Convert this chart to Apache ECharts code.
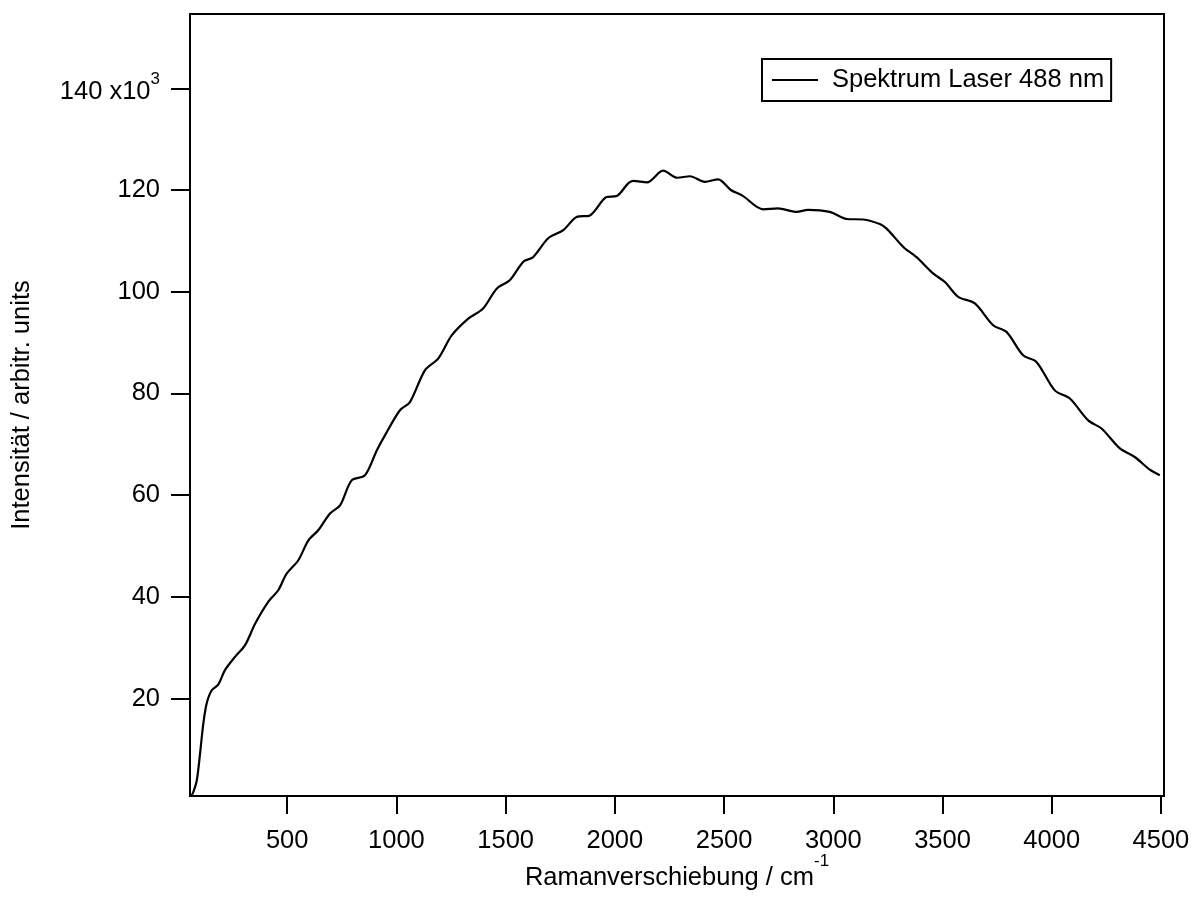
<!DOCTYPE html>
<html>
<head>
<meta charset="utf-8">
<script src="https://cdn.jsdelivr.net/npm/echarts@6/dist/echarts.min.js"></script>
<style>
  html, body { margin: 0; padding: 0; background: #fff; }
  #chart { width: 1197px; height: 897px; }
</style>
</head>
<body>
<div id="chart"></div>
<script>
// Raman shift (cm^-1)
const ramanShift = [63, 70, 86, 101, 116, 131, 154, 185, 215, 261, 307, 353, 413, 459, 498, 551, 597, 642, 696, 742, 795, 856, 910, 948,
  1016, 1062, 1131, 1192, 1253, 1329, 1397, 1459, 1520, 1581, 1626, 1695, 1764, 1825, 1886, 1962, 2008, 2061, 2084, 2147, 2221,
  2286, 2344, 2412, 2473, 2531, 2584, 2679, 2746, 2832, 2884, 2984, 3061, 3137, 3213, 3244, 3305, 3328, 3381, 3457, 3511, 3572,
  3648, 3732, 3793, 3869, 3930, 4014, 4083, 4167, 4228, 4312, 4380, 4449, 4495];
// Intensity (x10^3, arbitrary units)
const intensity = [1.0, 1.6, 3.9, 9.2, 15.1, 19.0, 21.6, 22.8, 25.6, 28.2, 30.5, 34.7, 39.0, 41.3, 44.6, 47.2, 51.1, 53.1, 56.4, 58.0, 62.9, 63.9, 68.8, 71.8,
  76.7, 78.3, 84.6, 86.9, 91.4, 94.7, 96.7, 100.6, 102.3, 105.9, 106.8, 110.5, 112.1, 114.7, 115.0, 118.6, 118.8, 121.3, 121.8, 121.5, 123.8,
  122.4, 122.7, 121.6, 122.1, 120.0, 118.9, 116.2, 116.4, 115.7, 116.1, 115.7, 114.3, 114.2, 113.3, 112.4, 109.5, 108.5, 106.8, 103.6, 101.9, 99.0,
  97.7, 93.4, 92.1, 87.5, 86.2, 80.6, 79.0, 74.7, 73.1, 69.2, 67.5, 65.0, 63.9];
const xTicks = [500, 1000, 1500, 2000, 2500, 3000, 3500, 4000, 4500];
const yTicks = [20, 40, 60, 80, 100, 120, 140];
const seriesName = 'Spektrum Laser 488 nm';
const xTitle = 'Ramanverschiebung / cm';
const yTitle = 'Intensität / arbitr. units';

const FONT = 'Liberation Sans';
const FS = 25.5;
const chart = echarts.init(document.getElementById('chart'), null, { renderer: 'canvas' });
const data = ramanShift.map((x, i) => [x, intensity[i]]);

chart.setOption({
  animation: false,
  backgroundColor: '#fff',
  textStyle: { fontFamily: FONT, color: '#000' },
  grid: {
    left: 190, right: 33, top: 14, bottom: 101,
    outerBoundsMode: 'none',
    containLabel: false,
    show: true, borderColor: '#000', borderWidth: 2, backgroundColor: 'transparent'
  },
  legend: {
    left: 762, top: 59,
    padding: [8, 7, 8, 10],
    borderColor: '#000', borderWidth: 2,
    itemWidth: 46, itemHeight: 2,
    icon: 'rect',
    textStyle: { fontFamily: FONT, fontSize: FS, color: '#000', padding: [0, 0, 0, 9] },
    data: [{ name: seriesName, itemStyle: { color: '#000' } }]
  },
  xAxis: {
    type: 'value',
    min: 55, max: 4514,
    name: '{m|' + xTitle + '}{s|-1}',
    nameLocation: 'middle',
    nameGap: 57,
    nameMoveOverlap: false,
    nameTextStyle: {
      fontFamily: FONT, fontSize: FS, color: '#000',
      rich: {
        m: { fontFamily: FONT, fontSize: FS, color: '#000', lineHeight: 38, verticalAlign: 'bottom' },
        s: { fontFamily: FONT, fontSize: 17, color: '#000', lineHeight: 17, verticalAlign: 'top' }
      }
    },
    splitLine: { show: false },
    axisLine: { show: true, lineStyle: { color: '#000', width: 2 } },
    axisTick: { show: true, inside: false, length: 18, lineStyle: { color: '#000', width: 2 }, customValues: xTicks },
    axisLabel: {
      fontFamily: FONT, fontSize: FS, color: '#000', margin: 32, customValues: xTicks,
      formatter: function (v) { return String(v); }
    }
  },
  yAxis: {
    type: 'value',
    min: 0.85, max: 154.6,
    name: yTitle,
    nameLocation: 'middle',
    nameGap: 155,
    nameMoveOverlap: false,
    nameTextStyle: { fontFamily: FONT, fontSize: FS, color: '#000' },
    splitLine: { show: false },
    axisLine: { show: true, lineStyle: { color: '#000', width: 2 } },
    axisTick: { show: true, inside: false, length: 19, lineStyle: { color: '#000', width: 2 }, customValues: yTicks },
    axisLabel: {
      fontFamily: FONT, fontSize: FS, color: '#000', margin: 30, customValues: yTicks,
      formatter: function (v) {
        if (Math.abs(v - 140) < 1e-6) return '{m|140 x10}{s|3}';
        return String(v);
      },
      rich: {
        m: { fontFamily: FONT, fontSize: FS, color: '#000', lineHeight: 34, verticalAlign: 'bottom' },
        s: { fontFamily: FONT, fontSize: 17, color: '#000', lineHeight: 17, verticalAlign: 'top' }
      }
    }
  },
  series: [{
    name: seriesName,
    type: 'line',
    data: data,
    showSymbol: false,
    smooth: 0.3,
    lineStyle: { color: '#000', width: 2.2 },
    itemStyle: { color: '#000' }
  }]
});
</script>
</body>
</html>
